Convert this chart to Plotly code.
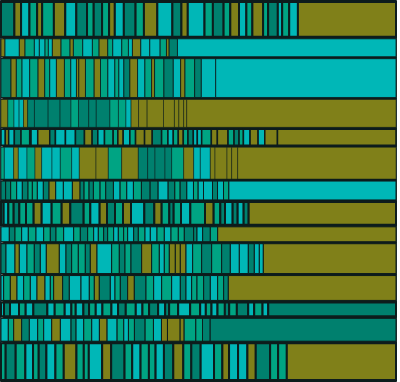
import plotly.graph_objects as go

# Row heights (top to bottom)
row_heights = [37, 20, 41, 30, 18, 34, 21, 25, 17, 32, 27, 16, 25, 39]

# Segment widths per row (left to right), relative units
row_widths = [
    [40,20,25,23,15,35,34,33,32,20,25,21,17,27,35,25,40,45,27,19,50,25,32,20,26,22,18,32,15,29,13,21,26,293],
    [12,43,17,28,15,17,10,12,26,27,10,28,29,20,26,15,27,20,12,25,27,31,19,8,25,655],
    [30,16,17,23,25,20,15,20,24,19,17,7,20,26,19,22,21,12,15,18,23,22,20,9,28,28,22,13,29,20,43,540],
    [20,18,15,13,12,20,40,35,32,22,30,22,40,25,22,15,22,25,48,32,13,14,9,613],
    [13,10,17,20,26,4,20,36,17,30,30,27,23,17,20,26,14,16,20,17,27,23,28,19,16,15,15,14,16,12,13,29,18,32,18,15,13,20,24,20,38,355],
    [10,28,14,26,24,20,31,25,34,23,50,37,40,50,28,22,30,20,36,30,20,30,14,36,14,18,475],
    [14,15,18,17,17,13,15,18,17,20,23,27,23,12,15,13,20,17,23,20,20,20,24,26,24,30,20,16,20,20,14,16,27,15,18,16,501],
    [8,14,16,17,20,23,24,30,30,26,40,20,28,22,24,24,24,40,30,22,23,13,22,28,44,26,20,14,23,15,18,15,442],
    [25,17,20,20,23,23,20,17,23,30,20,22,18,14,16,12,18,14,16,12,18,14,20,16,20,22,20,22,18,28,10,17,23,22,535],
    [15,27,13,23,22,18,18,39,20,17,20,21,15,20,44,23,17,18,32,30,23,15,15,18,15,17,20,27,30,30,26,27,27,18,15,12,398],
    [8,20,20,20,20,20,24,16,10,27,20,35,25,15,15,33,14,16,22,20,35,23,24,30,26,17,17,16,20,20,22,18,14,503],
    [9,18,27,20,23,42,22,30,20,13,23,17,20,20,27,20,23,30,20,20,27,21,12,27,36,30,17,17,18,22,13,23,34,18,25,17,383],
    [22,16,24,23,25,18,24,26,32,15,23,24,23,23,30,20,14,18,32,25,24,18,38,12,35,20,23,557],
    [14,30,29,23,17,23,27,25,38,22,15,40,27,40,23,25,25,20,25,28,30,24,28,40,25,20,27,28,25,43,24,26,327],
]

# Segment colour classes per row (O olive, C cyan, T dark teal, G green)
row_classes = [
    "TOCGOGOCTGTGOCTGOCTOCGTGOCGOGTCGCO",
    "OCOGCCGCOGOGCGOGCGCOCCGOTC",
    "TOGCGOGCOGCOOGOGCGCTOCGOGTCOGTCC",
    "OGCCOTTTTGTTTGGCOOOOOOOO",
    "COCTGTCOTCCTOTCGGOCGOOTGCGOGTCCGOOGTGCOCOO",
    "GCOCGOCCGCOOGOTTTTGOCCOOOOO",
    "TTGCTGGCTOCCOTGTGGTCGCGTTCTGTCGCCTCGC",
    "TCGTGGOCGOTGCOTGOCTOGTGCGOGTCTCTO",
    "CTGCGCGTGCGTGCGTGCGGCTGCCGCGGTTCTGO",
    "TCOCGTCOCTGGTOCGTGTOGCGOOOCGTGTCCTCCO",
    "CGOCGCOCGOTCCGOTCGTOTGCGCTCGGTCGTO",
    "CTCGCTCGCGCTGCGCTGCGTCTGCGCGCGTGTCGCT",
    "CGOTCGCOCTCGCOCGCGTGCOOOGGTT",
    "GTGCGTCGOGGCOTGCGGCTOGTCGOCCOTGGO",
]

palette = {"O": "#808019", "C": "#00b7b7", "T": "#00806e", "G": "#00a483"}
# border width of the segments in each row
row_line = [2, 0.8, 0.8, 0.5, 1.5, 0.5, 1, 2, 1, 1, 1, 2, 1, 2]

ids, labels, parents, values, colors, lw = ["all"], ["all"], [""], [0], ["#0d1c1c"], [1]
for r, (h, ws, cls) in enumerate(zip(row_heights, row_widths, row_classes)):
    rid = f"row{r+1}"
    tot = sum(ws)
    ids.append(rid); labels.append(rid); parents.append("all")
    values.append(0); colors.append("#0d1c1c"); lw.append(1.5)
    for i, (w, c) in enumerate(zip(ws, cls)):
        ids.append(f"{rid}-{i+1}"); labels.append(f"{rid}-{i+1}")
        parents.append(rid)
        values.append(w / tot * h)
        colors.append(palette[c]); lw.append(row_line[r])

fig = go.Figure(go.Treemap(
    ids=ids, labels=labels, parents=parents, values=values,
    branchvalues="remainder", sort=False,
    marker=dict(colors=colors, line=dict(color="#0d1c1c", width=lw),
                pad=dict(t=1, l=0, r=0, b=1)),
    tiling=dict(packing="dice-slice", pad=0),
    pathbar=dict(visible=False),
    textinfo="none",
    hoverinfo="skip",
))
fig.update_layout(width=400, height=382, margin=dict(l=1, r=4, t=0, b=0),
                  paper_bgcolor="white", hovermode=False)
fig.write_html("out.html", config={"displayModeBar": False, "staticPlot": True},
               post_script="document.body.style.margin='0';")
